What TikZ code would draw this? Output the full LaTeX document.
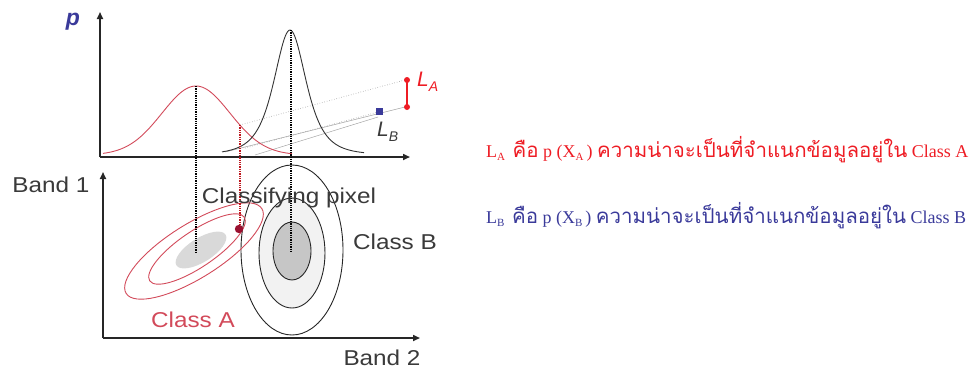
\documentclass[tikz,border=0pt]{standalone}
\usepackage{graphicx}
\usepackage{fontspec}
\setmainfont{Liberation Serif}
\newfontfamily\thaifont[Script=Thai]{Loma}
\newfontfamily\lblfont{Liberation Sans}
\usetikzlibrary{arrows.meta}
\definecolor{redtxt}{HTML}{EE1C24}
\definecolor{bluetxt}{HTML}{3A3A9A}
\definecolor{redcurve}{HTML}{D24A5A}
\definecolor{pixred}{HTML}{9A1030}
\definecolor{lbl}{HTML}{3A3A3A}
\newcommand\lowsub[1]{\raisebox{-0.45ex}{\fontsize{11}{11}\selectfont #1}}
\newcommand\ltsub[1]{\raisebox{-0.45ex}{\fontsize{14}{14}\selectfont #1}}
\newcommand\thaitxt[1]{{\thaifont\fontsize{20.5}{22}\selectfont #1}}
\newcommand\wide[1]{\scalebox{1.13}[1]{#1}}
\begin{document}
\begin{tikzpicture}[x=1pt,y=-1pt,
  axis/.style={line width=1.6pt,black!85,-{Triangle[length=7pt,width=6pt]}},
  sanslbl/.style={font=\lblfont\fontsize{21.5}{21.5}\selectfont,text=lbl,inner sep=0pt},
  guide/.style={densely dotted,line width=1.3pt,black},
  skew/.style={gray!70,line width=0.5pt},
  thtext/.style={font=\fontsize{18}{20}\selectfont,inner sep=0pt,anchor=base west}]
\useasboundingbox (0,0) rectangle (978,376);
% ---------- top plot ----------
\coordinate (ty0) at (100,157);
\coordinate (tytop) at (100,12);
\coordinate (txend) at (410,157);
\draw[axis] (ty0) -- (tytop);
\draw[axis] (ty0) -- (txend);
\node[font=\lblfont\itshape\bfseries\fontsize{23}{23}\selectfont,text=bluetxt] (p) at (73,22) {p};
% skew lines
\coordinate (a1) at (240,125); \coordinate (a2) at (405,80);
\coordinate (b1) at (225,152); \coordinate (b2) at (405,107);
\coordinate (c1) at (245,148); \coordinate (c2) at (378,112);
\coordinate (d1) at (255,155); \coordinate (d2) at (378,117);
\draw[skew,dotted,line width=0.8pt] (a1) -- (a2);
\draw[skew] (b1) -- (b2);
\draw[skew,dotted,line width=0.8pt] (c1) -- (c2);
\draw[skew] (d1) -- (d2);
% curves
\draw[redcurve,line width=0.9pt] plot[domain=103:292,samples=90,smooth] (\x,{155-69*exp(-0.5*pow((\x-196)/34,2))});
\draw[black!80,line width=0.9pt] plot[domain=222:364,samples=120,smooth] (\x,{155-125/pow(1+pow((\x-290)/29.5,2),2)});
% markers
\coordinate (LAt) at (407,80);
\coordinate (LAb) at (407,107);
\draw[redtxt,line width=1.2pt] (LAt) -- (LAb);
\fill[redtxt] (LAt) circle (3pt);
\fill[redtxt] (LAb) circle (3pt);
\fill[bluetxt] (376,108) rectangle (383,115);
\node[font=\lblfont\itshape\fontsize{21}{21}\selectfont,text=redtxt,anchor=west,inner sep=0pt] (LA) at (417,82) {L\ltsub{A}};
\node[font=\lblfont\itshape\fontsize{21}{21}\selectfont,text=lbl,anchor=west,inner sep=0pt] (LB) at (377,132) {L\ltsub{B}};
% ---------- bottom plot ----------
% class B
\draw[black!85,line width=0.9pt,fill=white] (292,250) ellipse [x radius=51pt,y radius=85pt];
\draw[black!85,line width=0.9pt,fill=gray!10] (292,253) ellipse [x radius=33pt,y radius=55pt];
\draw[black!85,line width=0.9pt,fill=gray!45] (292,251) ellipse [x radius=19pt,y radius=29pt];
% class A
\draw[redcurve,line width=0.9pt,rotate around={32:(194,251)}] (194,251) ellipse [x radius=80pt,y radius=27pt];
\draw[redcurve,line width=0.9pt,rotate around={34:(197,249)}] (197,249) ellipse [x radius=57pt,y radius=18pt];
\fill[gray!30,rotate around={32:(201,250)}] (201,250) ellipse [x radius=29pt,y radius=12pt];
% axes
\coordinate (by0) at (103,338);
\coordinate (bytop) at (103,172);
\coordinate (bxend) at (420,338);
\draw[axis] (by0) -- (bytop);
\draw[axis] (by0) -- (bxend);
% guides
\coordinate (gA1) at (196,86); \coordinate (gA2) at (196,252);
\coordinate (gB1) at (291,30); \coordinate (gB2) at (291,252);
\coordinate (gP1) at (240,125); \coordinate (gP2) at (240,226);
\draw[guide] (gA1) -- (gA2);
\draw[guide] (gB1) -- (gB2);
\draw[guide,redtxt!80!black] (gP1) -- (gP2);
\fill[pixred] (239,229) circle (4.2pt);
% labels
\node[sanslbl] (band1) at (51,185) {\wide{Band 1}};
\node[sanslbl] (band2) at (382,358) {\wide{Band 2}};
\node[sanslbl] (cpix) at (289,198) {\wide{Classifying pixel}};
\node[sanslbl] (clB) at (395,242) {\wide{Class B}};
\node[sanslbl,text=redcurve] (clA) at (193,320) {\wide{Class A}};
% ---------- right text ----------
\node[thtext,text=redtxt] (lineA) at (486,157) {L\lowsub{A}\, \thaitxt{คือ} p (X\lowsub{A}\,) \thaitxt{ความน่าจะเป็นที่จำแนกข้อมูลอยู่ใน} Class A};
\node[thtext,text=bluetxt] (lineB) at (486,223) {L\lowsub{B}\, \thaitxt{คือ} p (X\lowsub{B}\,) \thaitxt{ความน่าจะเป็นที่จำแนกข้อมูลอยู่ใน} Class B};
\end{tikzpicture}
\end{document}
